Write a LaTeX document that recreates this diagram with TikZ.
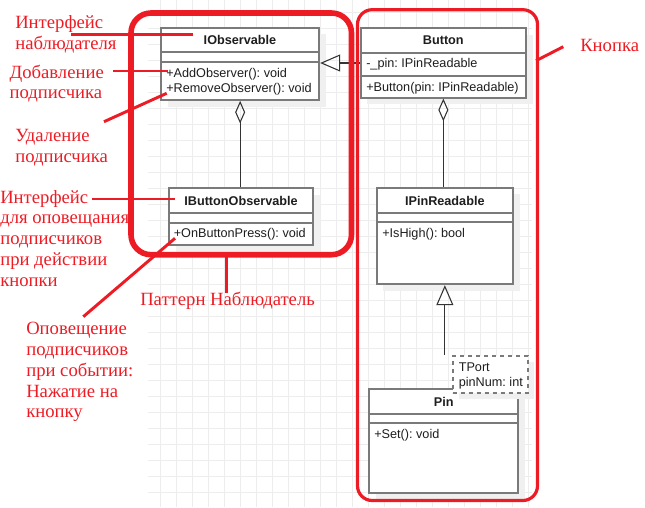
\documentclass[tikz,border=0pt]{standalone}
\usepackage{fontspec}
\setmainfont{Liberation Serif}
\setsansfont{Liberation Sans}
\usetikzlibrary{arrows.meta, fit, shadows}
\definecolor{notered}{HTML}{ED1C24}
\definecolor{umlgray}{HTML}{7A7A7A}
\definecolor{umltext}{HTML}{1E1E1E}
\definecolor{gridgray}{HTML}{EDEDED}
\frenchspacing
\tikzset{
  umlclass/.style={draw=umlgray, line width=1.3pt, fill=white, inner sep=0pt,
    drop shadow={shadow xshift=5pt, shadow yshift=-5pt, fill=black!6, opacity=1}},
  umlsep/.style={draw=umlgray, line width=1.3pt},
  umltitle/.style={font=\sffamily\bfseries\fontsize{9.5}{11}\selectfont, text=umltext, anchor=base, inner sep=0pt},
  umlmember/.style={font=\sffamily\fontsize{9.5}{11}\selectfont, text=umltext, anchor=base west, inner sep=0pt},
  note/.style={font=\fontsize{14}{15.6}\selectfont, text=notered, align=left, anchor=north west, inner sep=0pt},
  noteline/.style={draw=notered, line width=2.2pt},
  gen/.style={draw=black!80, line width=0.8pt, -{Triangle[open, length=15pt, width=12.75pt]}},
  agg/.style={draw=black!80, line width=0.8pt, {Diamond[open, length=17pt, width=7.5pt]}-},
  gridline/.style={draw=gridgray, line width=0.75pt},
}

\begin{document}
\begin{tikzpicture}[x=0.75pt, y=-0.75pt]
    \useasboundingbox (0,0) rectangle (645,507);
    % grid
    \foreach \gx in {160.7,176.7,...,530}
        \draw[gridline] (\gx,0) -- (\gx,507);
    \foreach \gy in {12.7,28.7,...,502}
        \draw[gridline] (148,\gy) -- (532,\gy);

    % classes
    \node[umlclass, fit={(161,27.7) (319.3,100)}] (iobs) {};
    \draw[umlsep] (161,52.3) -- (319.3,52.3);
    \draw[umlsep] (161,62.3) -- (319.3,62.3);
    \node[umltitle] (iobstitle) at (240,44.5) {IObservable};
    \node[umlmember] (addobs) at (166,77.2) {+AddObserver(): void};
    \node[umlmember] (remobs) at (166,92.8) {+RemoveObserver(): void};

    \node[umlclass, fit={(169,188.3) (313.3,245)}] (ibo) {};
    \draw[umlsep] (169,212.7) -- (313.3,212.7);
    \draw[umlsep] (169,222.7) -- (313.3,222.7);
    \node[umltitle] (ibotitle) at (241,205.2) {IButtonObservable};
    \node[umlmember] (onpress) at (173.5,237.8) {+OnButtonPress(): void};

    \node[umlclass, fit={(360.7,28.3) (526,97.7)}] (button) {};
    \draw[umlsep] (360.7,52.7) -- (526,52.7);
    \draw[umlsep] (360.7,76) -- (526,76);
    \node[umltitle] (buttontitle) at (443.3,44.5) {Button};
    \node[umlmember] (pinattr) at (366,67.8) {-\_pin: IPinReadable};
    \node[umlmember] (buttonctor) at (366,91.8) {+Button(pin: IPinReadable)};

    \node[umlclass, fit={(376.7,187.7) (513,284.3)}] (ipin) {};
    \draw[umlsep] (376.7,212.7) -- (513,212.7);
    \draw[umlsep] (376.7,222) -- (513,222);
    \node[umltitle] (ipintitle) at (444.8,205) {IPinReadable};
    \node[umlmember] (ishigh) at (382,237.5) {+IsHigh(): bool};

    \node[umlclass, fit={(369,389) (518.3,492.7)}] (pin) {};
    \draw[umlsep] (369,414) -- (518.3,414);
    \draw[umlsep] (369,423.3) -- (518.3,423.3);
    \node[umltitle] (pintitle) at (443.7,406.2) {Pin};
    \node[umlmember] (setm) at (374,438.5) {+Set(): void};

    \node[umlclass, dashed, fit={(452.7,355.7) (527.7,392.7)}] (tmpl) {};
    \node[umlmember] (tport) at (458.5,371.2) {TPort};
    \node[umlmember] (pinnum) at (458.5,386.2) {pinNum: int};

    % relations
    \draw[gen] (button.west) -- (button.west -| iobs.east);
    \draw[agg] (iobs.south) -- (iobs.south |- ibo.north);
    \draw[agg] (button.south) -- (button.south |- ipin.north);
    \draw[gen] (ipin.south |- tmpl.north) -- (ipin.south);

    % red frames
    \draw[notered, line width=4.2pt, rounded corners=15pt] (131,13) rectangle (351.5,254.7);
    \draw[notered, line width=2.4pt, rounded corners=11pt] (357.5,9.7) rectangle (537.5,500.5);

    % notes
    \node[note] (nobserver) at (15,15.4) {Интерфейс\\наблюдателя};
    \node[note] (nadd) at (9.3,64.4) {Добавление\\подписчика};
    \node[note] (nremove) at (15,128.8) {Удаление\\подписчика};
    \node[note] (nbuttonobs) at (0,189.8) {Интерфейс\\для оповещания\\подписчиков\\при действии\\кнопки};
    \node[note] (npattern) at (140,292.1) {Паттерн Наблюдатель};
    \node[note] (nnotify) at (26,322.1) {Оповещение\\подписчиков\\при событии:\\Нажатие на\\кнопку};
    \node[note] (nbutton) at (580,38.8) {Кнопка};

    \coordinate (l1a) at (71,34.7);    \coordinate (l1b) at (193.3,34.7);
    \coordinate (l2a) at (113,71);     \coordinate (l2b) at (168,71);
    \coordinate (l3a) at (104,121.7);  \coordinate (l3b) at (166.7,93.3);
    \coordinate (l4a) at (91.7,199);   \coordinate (l4b) at (175,199);
    \coordinate (l5a) at (83.3,316.7); \coordinate (l5b) at (175,238.3);
    \coordinate (l6a) at (226.7,293.3);\coordinate (l6b) at (226.7,252);
    \coordinate (l7a) at (563.3,46.7); \coordinate (l7b) at (536,60.7);
    \foreach \la/\lb in {l1a/l1b, l2a/l2b, l3a/l3b, l4a/l4b, l5a/l5b, l6a/l6b, l7a/l7b}
        \draw[noteline] (\la) -- (\lb);
\end{tikzpicture}
\end{document}
